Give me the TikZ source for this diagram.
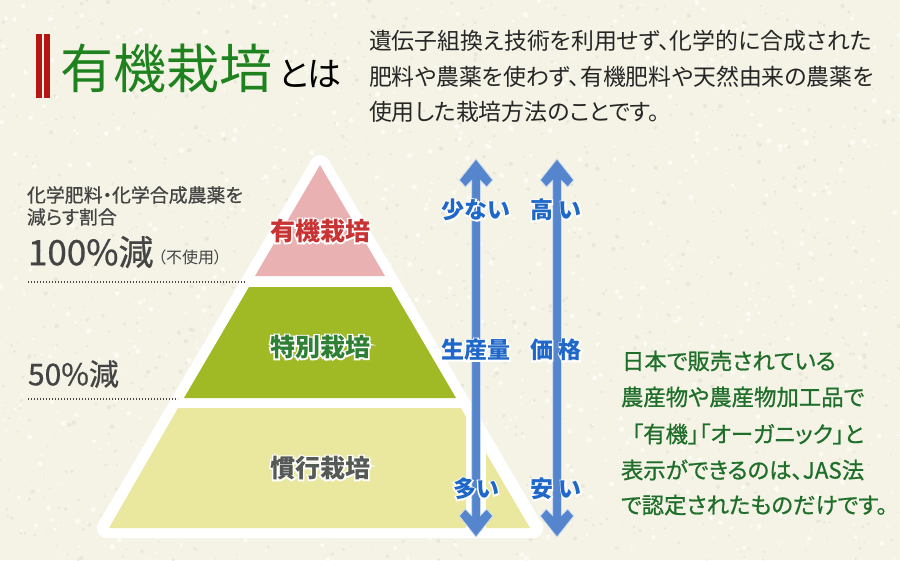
\documentclass[tikz,border=0pt]{standalone}
\usepackage{fontspec}
\setmainfont{Noto Sans CJK JP}
\newfontfamily\cjkpalt[RawFeature=+palt]{Noto Sans CJK JP}
\newfontfamily\cjkheavy[RawFeature=+palt,FakeBold=0.8]{Noto Sans CJK JP}
\newfontfamily\cjkmedium[RawFeature=+palt,FakeBold=0.7]{Noto Sans CJK JP}
\newfontfamily\cjkhalo[FakeBold=12]{Noto Sans CJK JP}
\definecolor{paper}{HTML}{F4F3E6}
\definecolor{speckdark}{HTML}{E9E7D7}
\definecolor{specklight}{HTML}{FBFAF3}
\definecolor{tiertop}{HTML}{E9B1B1}
\definecolor{tiermid}{HTML}{A0BA26}
\definecolor{tierlow}{HTML}{E9E89E}
\definecolor{arrowblue}{HTML}{5586CD}
\definecolor{textblue}{HTML}{1F67C8}
\definecolor{textred}{HTML}{C83434}
\definecolor{textgreen}{HTML}{2F7F35}
\definecolor{textgray}{HTML}{555A55}
\definecolor{headgreen}{HTML}{1E821E}
\definecolor{headred}{HTML}{B71414}
\definecolor{notegreen}{HTML}{1F6E2A}
\definecolor{notegray}{HTML}{444444}
\tikzset{
	plain/.style={inner sep=0pt, outer sep=0pt},
	tierlabel/.style={plain, font=\fontsize{25}{25}\selectfont\bfseries},
	bluelabel/.style={plain, text=textblue, font=\fontsize{23}{23}\selectfont\bfseries},
	bodytext/.style={plain, anchor=west, text=black!85, font=\fontsize{22.9}{22.9}\selectfont\cjkpalt},
	sidetext/.style={plain, anchor=west, text=notegreen, font=\fontsize{22.4}{22.4}\selectfont\cjkheavy},
	lefttext/.style={plain, anchor=west, text=notegray},
	dotline/.style={notegray, line width=1.1pt, dash pattern=on 1.1pt off 1.9pt},
	whiteedge/.style={draw=white, line width=20pt, line join=round, fill=white},
	blueshape/.style={fill=arrowblue, draw=white!70!arrowblue, line width=0.8pt}
}
\newcommand{\halo}[1]{\rlap{\cjkhalo\bfseries\color{white}#1}#1}
\begin{document}
\begin{tikzpicture}[x=1pt, y=-1pt]
	\useasboundingbox (0,0) rectangle (900,560);
	\fill[paper] (0,0) rectangle (900,560);
	\pgfmathsetseed{7}
	\foreach \i in {1,...,1100}
		\fill[speckdark] (rnd*900, rnd*560) circle (0.6 + rnd*1.6);
	\foreach \i in {1,...,1100}
		\fill[specklight] (rnd*900, rnd*560) circle (0.6 + rnd*2.2);

	\fill[headred] (36,34) rectangle (42.3,98);
	\fill[headred] (44,34) rectangle (50.3,98);
	\node[plain, anchor=west, text=headgreen] (titlemain) at (60,68) {\fontsize{53}{53}\selectfont 有機栽培};
	\node[plain, anchor=west, text=black] (titletail) at (278,74) {\fontsize{34}{34}\selectfont\cjkpalt とは};

	\node[bodytext] (bodya) at (369,41) {遺伝子組換え技術を利用せず、化学的に合成された};
	\node[bodytext] (bodyb) at (369,77) {肥料や農薬を使わず、有機肥料や天然由来の農薬を};
	\node[bodytext] (bodyc) at (369,112) {使用した栽培方法のことです。};

	\draw[whiteedge] (320,165) -- (107,528) -- (533,528) -- cycle;
	\fill[tiertop] (320,165) -- (255,276) -- (385,276) -- cycle;
	\fill[tiermid] (249,287) -- (391,287) -- (456,398) -- (184,398) -- cycle;
	\fill[tierlow] (178,408) -- (461,408) -- (466,417) -- (466,528) -- (109,528) -- cycle;
	\fill[tierlow] (486,453) -- (530,528) -- (486,528) -- cycle;

	\node[tierlabel, text=textred] (tiera) at (320,231) {\halo{有機栽培}};
	\node[tierlabel, text=textgreen] (tierb) at (320,347) {\halo{特別栽培}};
	\node[tierlabel, text=textgray] (tierc) at (320,468) {\halo{慣行栽培}};

	\node[lefttext, font=\fontsize{18.9}{18.9}\selectfont\cjkmedium] (cuta) at (27,195) {化学肥料・化学合成農薬を};
	\node[lefttext, font=\fontsize{18.9}{18.9}\selectfont\cjkmedium] (cutb) at (27,217) {減らす割合};
	\node[lefttext, font=\fontsize{35}{35}\selectfont\cjkmedium] (cutc) at (28,252) {100\%減};
	\node[lefttext, font=\fontsize{16}{16}\selectfont\cjkpalt] (cutd) at (158,257) {（不使用）};
	\node[lefttext, font=\fontsize{30}{30}\selectfont\cjkmedium] (cute) at (28,374) {50\%減};

	\coordinate (dota) at (28,282);
	\coordinate (dotb) at (246,282);
	\coordinate (dotc) at (28,399);
	\coordinate (dotd) at (178,399);
	\draw[dotline] (dota) -- (dotb);
	\draw[dotline] (dotc) -- (dotd);

	\foreach \x in {476,557}
		\draw[blueshape] (\x,159) -- (\x+16.7,180) -- (\x+10.7,187) -- (\x+4.4,180.5) -- (\x+4.4,515.5) -- (\x+10.7,509) -- (\x+16.7,516) -- (\x,537) -- (\x-16.7,516) -- (\x-10.7,509) -- (\x-4.4,515.5) -- (\x-4.4,180.5) -- (\x-10.7,187) -- (\x-16.7,180) -- cycle;

	\node[bluelabel] (fewer) at (476,210) {\halo{少ない}};
	\node[bluelabel] (output) at (476,350) {\halo{生産量}};
	\node[bluelabel] (more) at (476,489) {\halo{多い}};
	\node[bluelabel] (high) at (556,210) {\halo{高\hspace{6pt}い}};
	\node[bluelabel] (price) at (556,350) {\halo{価\hspace{6pt}格}};
	\node[bluelabel] (low) at (556,489) {\halo{安\hspace{6pt}い}};

	\node[sidetext] (notea) at (622,361) {日本で販売されている};
	\node[sidetext] (noteb) at (621,397) {農産物や農産物加工品で};
	\node[sidetext] (notec) at (632,434) {「有機」「オーガニック」と};
	\node[sidetext] (noted) at (621,470) {表示ができるのは、JAS法};
	\node[sidetext] (notee) at (621,505) {で認定されたものだけです。};
\end{tikzpicture}
\end{document}
